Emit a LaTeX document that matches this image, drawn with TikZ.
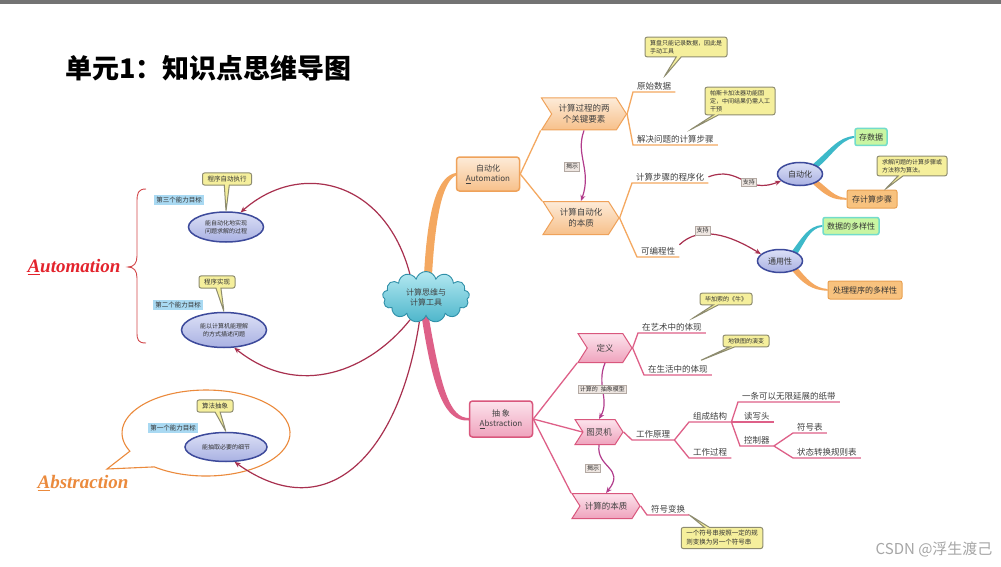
\documentclass[tikz,border=0pt]{standalone}
\usepackage{fontspec}
\setmainfont{Noto Sans CJK SC}
\newfontfamily\swashfont{Liberation Serif}
\usepackage{tikz}
\usetikzlibrary{positioning, arrows.meta, calc, backgrounds, shapes.symbols, shapes.callouts, shapes.geometric}

\definecolor{cloudtop}{HTML}{B4E9F1}
\definecolor{cloudbot}{HTML}{4DB6CB}
\definecolor{cloudedge}{HTML}{2F8FA8}
\definecolor{autotop}{HTML}{FDEBD8}
\definecolor{autobot}{HTML}{F7C08A}
\definecolor{autoedge}{HTML}{EFA25A}
\definecolor{autoline}{HTML}{F4A860}
\definecolor{abstrtop}{HTML}{FCE3EC}
\definecolor{abstrbot}{HTML}{EFA3BD}
\definecolor{abstredge}{HTML}{D9577D}
\definecolor{abstrline}{HTML}{DE6088}
\definecolor{linkred}{HTML}{A8304F}
\definecolor{revealpurple}{HTML}{B23C8C}
\definecolor{notefill}{HTML}{F5EF9C}
\definecolor{noteedge}{HTML}{8E8C70}
\definecolor{tagblue}{HTML}{A9D9F2}
\definecolor{ovaltop}{HTML}{DCE0F6}
\definecolor{ovalbot}{HTML}{A9B1E2}
\definecolor{ovaledge}{HTML}{3D4A9B}
\definecolor{greenfill}{HTML}{C9F5A2}
\definecolor{greenedge}{HTML}{72DCCB}
\definecolor{stepfill}{HTML}{F8C27E}
\definecolor{stepedge}{HTML}{E9A152}
\definecolor{tealbranch}{HTML}{3DB9C9}
\definecolor{labelfill}{HTML}{EEE6E1}
\definecolor{labeledge}{HTML}{B3A9A3}
\definecolor{automred}{HTML}{E3232C}
\definecolor{bracered}{HTML}{D2474A}
\definecolor{abstrorange}{HTML}{EB8A3C}

\tikzset{
  mapcloud/.style={cloud, cloud puffs=13, aspect=1.7, draw=cloudedge, line width=0.9pt,
    top color=cloudtop, bottom color=cloudbot, minimum width=87pt, minimum height=51pt,
    align=center, font=\fontsize{8}{10}\selectfont, text=black!75},
  autobox/.style={rectangle, rounded corners=3pt, draw=autoedge, line width=1.5pt,
    top color=autotop, bottom color=autobot, minimum width=63pt, minimum height=34pt,
    align=center, font=\fontsize{8}{10}\selectfont, text=black!75},
  abstrbox/.style={rectangle, rounded corners=3pt, draw=abstredge, line width=1.5pt,
    top color=abstrtop, bottom color=abstrbot, minimum width=63pt, minimum height=36pt,
    align=center, font=\fontsize{8}{10}\selectfont, text=black!75},
  autochev/.style={signal, signal from=west, signal to=east, signal pointer angle=115,
    draw=autoedge, line width=1pt, top color=autotop, bottom color=autobot,
    align=center, inner sep=1pt, font=\fontsize{8.5}{11}\selectfont, text=black!75},
  abstrchev/.style={signal, signal from=west, signal to=east, signal pointer angle=115,
    draw=abstredge, line width=1pt, top color=abstrtop, bottom color=abstrbot,
    align=center, inner sep=1pt, font=\fontsize{8.5}{11}\selectfont, text=black!75},
  subtopic/.style={anchor=south west, inner xsep=4pt, inner ysep=2pt,
    font=\fontsize{8.5}{10}\selectfont, text=black!75},
  oline/.style={draw=autoline, line width=1.3pt},
  pline/.style={draw=abstrline, line width=1.3pt},
  tipnote/.style={rectangle callout, rounded corners=2pt, draw=noteedge, line width=1pt,
    fill=notefill, font=\fontsize{6}{8}\selectfont, align=left, inner xsep=5pt,
    inner ysep=3pt, callout pointer width=5pt, text=black!80},
  aimoval/.style={ellipse, draw=ovaledge, line width=1.5pt, top color=ovaltop,
    bottom color=ovalbot, align=center, inner sep=1pt, font=\fontsize{6}{7.5}\selectfont,
    text=black!80},
  aimtag/.style={fill=tagblue, inner sep=2pt, font=\fontsize{6.5}{8}\selectfont, text=black!80},
  databox/.style={rectangle, rounded corners=2pt, draw=greenedge, line width=1.5pt,
    fill=greenfill, minimum height=17pt, inner xsep=4pt, font=\fontsize{8}{10}\selectfont,
    text=black!80},
  stepbox/.style={rectangle, rounded corners=2pt, draw=stepedge, line width=1pt,
    fill=stepfill, minimum height=18pt, inner xsep=5pt, font=\fontsize{8}{10}\selectfont,
    text=black!80},
  linkarrow/.style={draw=linkred, line width=1.2pt, -{Stealth[length=6pt, width=5pt]}},
  revealarrow/.style={draw=revealpurple, line width=1.2pt, -{Stealth[length=6pt, width=5pt]}},
  relabel/.style={fill=labelfill, draw=labeledge, line width=0.5pt, inner sep=1.5pt,
    font=\fontsize{6}{7}\selectfont, text=black!80},
  swash/.style={font=\swashfont\bfseries\itshape\fontsize{19}{22}\selectfont}
}

\begin{document}
\begin{tikzpicture}[x=1pt, y=-1pt]
  \useasboundingbox (0,0) rectangle (1001,567);
  \begin{scope}[on background layer]
    \fill[white] (0,0) rectangle (1001,567);
  \end{scope}
  \fill[black!55] (0,0) rectangle (1001,4);

  % title
  \node[anchor=west, font=\fontsize{27}{30}\selectfont\bfseries] (title) at (62,68) {单元1：知识点思维导图};

  % centre and main topics
  \node[mapcloud] (core) at (426,297) {计算思维与\\计算工具};
  \node[autobox] (auto) at (488,174) {自动化\\\underline{A}utomation};
  \node[abstrbox] (abstr) at (501,419) {抽\ 象\\\underline{A}bstraction};

  % automation branch
  \node[autochev, minimum width=85pt, minimum height=32pt] (elem) at (584,114) {计算过程的两\\个关键要素};
  \node[autochev, minimum width=76pt, minimum height=33pt] (ess) at (581,218) {计算自动化\\的本质};
  \node[subtopic] (raw) at (633,92) {原始数据};
  \node[subtopic] (steps) at (633,145) {解决问题的计算步骤};
  \node[subtopic] (prog) at (632,183) {计算步骤的程序化};
  \node[subtopic] (progm) at (637,257) {可编程性};
  \node[tipnote, callout absolute pointer={($(raw.north)+(10,-3)$)}] (note1) at (686,47)
    {算盘只能记录数据，因此是\\手动工具};
  \node[tipnote, callout absolute pointer={($(steps.north)+(15,-3)$)}] (note2) at (740,101)
    {帕斯卡加法器功能固\\定，中间结果仍需人工\\干预};

  \node[aimoval, minimum width=45pt, minimum height=23pt, font=\fontsize{8}{10}\selectfont] (autooval) at (800,174) {自动化};
  \node[databox] (store) at (871,137) {存数据};
  \node[stepbox] (keepstep) at (872,199) {存计算步骤};
  \node[tipnote, callout absolute pointer={($(keepstep.north)+(13,0)$)}] (note3) at (912,166)
    {求解问题的计算步骤或\\方法称为算法。};
  \node[aimoval, minimum width=45pt, minimum height=23pt, font=\fontsize{8}{10}\selectfont] (general) at (780,261) {通用性};
  \node[databox] (variety) at (851,226) {数据的多样性};
  \node[stepbox] (procvar) at (865,290) {处理程序的多样性};

  \draw[oline] (auto.east) -- (elem.south west);
  \draw[oline] (auto.east) -- (ess.north west);
  \draw[oline] (elem.east) -- (raw.south west) -- (raw.south east);
  \draw[oline] (elem.east) -- (steps.south west) -- (steps.south east);
  \draw[oline] (ess.east) -- (prog.south west) -- (prog.south east);
  \draw[oline] (ess.east) -- (progm.south west) -- (progm.south east);

  \draw[revealarrow] (elem.south) .. controls (575,155) and (592,170) .. (ess.north)
    node[relabel, pos=0.55, left=4pt] (revA) {揭示};
  \draw[linkarrow] (prog.east) .. controls (740,165) and (745,195) .. (autooval.200)
    node[relabel, pos=0.6] (supA) {支持};
  \draw[linkarrow] (progm.north east) .. controls (700,225) and (730,235) .. (general.160)
    node[relabel, pos=0.33, above=-1pt] (supB) {支持};

  % abstraction branch
  \node[abstrchev, minimum width=54pt, minimum height=29pt] (defn) at (605,348) {定义};
  \node[abstrchev, minimum width=48pt, minimum height=25pt] (turing) at (599,432) {图灵机};
  \node[abstrchev, minimum width=68pt, minimum height=25pt] (essence) at (606,506) {计算的本质};
  \node[subtopic] (art) at (638,333) {在艺术中的体现};
  \node[subtopic] (life) at (644,375) {在生活中的体现};
  \node[tipnote, callout absolute pointer={($(art.north)+(20,-2)$)}] (note4) at (726,299) {毕加索的《牛》};
  \node[tipnote, callout absolute pointer={($(life.north)+(22,-2)$)}] (note5) at (746,341) {地铁图的演变};
  \node[subtopic] (work) at (632,440) {工作原理};
  \node[subtopic] (build) at (689,422) {组成结构};
  \node[subtopic] (run) at (689,458) {工作过程};
  \node[subtopic] (tape) at (738,402) {一条可以无限延展的纸带};
  \node[subtopic] (head) at (740,422) {读写头};
  \node[subtopic] (ctrl) at (740,446) {控制器};
  \node[subtopic] (symtab) at (793,433) {符号表};
  \node[subtopic] (ruletab) at (793,458) {状态转换规则表};
  \node[subtopic] (symchg) at (647,515) {符号变换};
  \node[tipnote, font=\fontsize{6.5}{9}\selectfont, callout absolute pointer={(symchg.south east)}] (note6) at (722,538)
    {一个符号串按照一定的规\\则变换为另一个符号串};

  \draw[pline] (abstr.east) -- (defn.south west);
  \draw[pline] (abstr.east) -- (turing.west);
  \draw[pline] (abstr.east) -- (essence.north west);
  \draw[pline] (defn.east) -- (art.south west) -- (art.south east);
  \draw[pline] (defn.east) -- (life.south west) -- (life.south east);
  \draw[pline] (turing.east) -- (work.south west) -- (work.south east);
  \draw[pline] (work.south east) -- (build.south west) -- (build.south east);
  \draw[pline] (work.south east) -- (run.south west) -- (run.south east);
  \draw[pline] (build.south east) -- (tape.south west) -- (tape.south east);
  \draw[pline] (build.south east) -- (head.south west) -- (head.south east);
  \draw[pline] (build.south east) -- (ctrl.south west) -- (ctrl.south east);
  \draw[pline] (ctrl.south east) -- (symtab.south west) -- (symtab.south east);
  \draw[pline] (ctrl.south east) -- (ruletab.south west) -- (ruletab.south east);
  \draw[pline] (essence.east) -- (symchg.south west) -- (symchg.south east);

  \draw[revealarrow] (defn.south) .. controls (596,385) and (610,400) .. (turing.north)
    node[relabel, pos=0.45] (model) {计算的\enspace 抽象模型};
  \draw[revealarrow] (turing.south) .. controls (596,468) and (626,468) .. (essence.north)
    node[relabel, pos=0.5, left=8pt] (revB) {揭示};

  % tapered branches
  \begin{scope}[on background layer]
    \fill[autoline] ($(core.north)+(-2,4)$) .. controls (428,200) and (440,176) .. ($(auto.west)+(0,-1)$)
      -- ($(auto.west)+(0,1.5)$) .. controls (445,181) and (436,205) .. ($(core.north)+(6,4)$) -- cycle;
    \fill[abstrline] ($(core.south)+(2,-4)$) .. controls (441,390) and (450,418) .. ($(abstr.west)+(0,-1)$)
      -- ($(abstr.west)+(0,1.5)$) .. controls (445,422) and (433,392) .. ($(core.south)+(-5,-4)$) -- cycle;
    \fill[tealbranch] ($(autooval.north east)+(-6,1)$) .. controls (830,150) and (838,137) .. ($(store.west)+(0,-1)$)
      -- ($(store.west)+(0,0.8)$) .. controls (840,140) and (831,157) .. ($(autooval.north east)+(0,3)$) -- cycle;
    \fill[autoline] ($(autooval.south east)+(-6,-1)$) .. controls (826,196) and (832,200) .. ($(keepstep.west)+(0,0.8)$)
      -- ($(keepstep.west)+(0,-1)$) .. controls (834,197) and (829,189) .. ($(autooval.south east)+(0,-3)$) -- cycle;
    \fill[tealbranch] ($(general.north east)+(-6,1)$) .. controls (802,238) and (808,226) .. ($(variety.west)+(0,-1)$)
      -- ($(variety.west)+(0,0.8)$) .. controls (810,228) and (805,242) .. ($(general.north east)+(0,3)$) -- cycle;
    \fill[autoline] ($(general.south east)+(-6,-1)$) .. controls (804,285) and (812,290) .. ($(procvar.west)+(0,0.8)$)
      -- ($(procvar.west)+(0,-1)$) .. controls (814,288) and (807,279) .. ($(general.south east)+(0,-3)$) -- cycle;
  \end{scope}

  % left: ability goals
  \draw[draw=abstrorange, line width=1.1pt, fill=white] (107,469) -- (154.3,466.9)
    arc[start angle=128, end angle=-205, x radius=84, y radius=43] -- cycle;
  \draw[bracered, line width=0.9pt] (146,189) .. controls (138,189) and (137,193) .. (137,202) -- (137,256)
    .. controls (137,263) and (134,267) .. (128,267) .. controls (134,267) and (137,271) .. (137,278)
    -- (137,332) .. controls (137,340) and (138,343) .. (146,343);

  \node[swash, text=automred] (autoword) at (74,267) {\underline{A}utomation};
  \node[swash, text=abstrorange] (abstrword) at (83,483) {\underline{A}bstraction};

  \node[aimoval, minimum width=75pt, minimum height=30pt] (aim3) at (226,227) {能自动化地实现\\问题求解的过程};
  \node[tipnote, font=\fontsize{6.5}{8}\selectfont, callout absolute pointer={(aim3.north)}] (note7) at (227,179) {程序自动执行};
  \node[aimtag] (tag3) at (179,200) {第三个能力目标};
  \node[aimoval, minimum width=85pt, minimum height=35pt] (aim2) at (224,330) {能以计算机能理解\\的方式描述问题};
  \node[tipnote, font=\fontsize{6.5}{8}\selectfont, callout absolute pointer={(aim2.north)}] (note8) at (217,282) {程序实现};
  \node[aimtag] (tag2) at (178,305) {第二个能力目标};
  \node[aimoval, minimum width=82pt, minimum height=29pt] (aim1) at (226,447) {能抽取必要的细节};
  \node[tipnote, font=\fontsize{6.5}{8}\selectfont, callout absolute pointer={(aim1.north)}] (note9) at (215,406) {算法抽象};
  \node[aimtag] (tag1) at (173,428) {第一个能力目标};

  \draw[linkarrow] (core.125) .. controls (385,180) and (300,160) .. (aim3.45);
  \draw[linkarrow] (core.235) .. controls (370,370) and (300,400) .. (aim2.-60);
  \draw[linkarrow] (core.255) .. controls (400,450) and (330,530) .. (aim1.-60);

  \node[anchor=east, font=\fontsize{15}{16}\selectfont, text=black!35] (mark) at (996,549) {CSDN @浮生渡己};
\end{tikzpicture}
\end{document}
